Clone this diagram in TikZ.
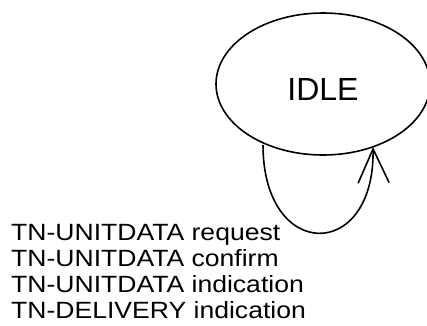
\documentclass[tikz,border=0pt]{standalone}
\usepackage{fontspec}
\setmainfont{Liberation Sans}
\usetikzlibrary{shapes.geometric,arrows.meta}
\begin{document}
\begin{tikzpicture}[x=1pt,y=-1pt,
  stateell/.style={draw, ellipse, line width=1.6pt, minimum width=214pt, minimum height=142pt, inner sep=0pt},
  statetext/.style={anchor=base, inner sep=0pt, font=\fontsize{32}{36}\selectfont},
  loopline/.style={line width=1.6pt, -{Straight Barb[length=34pt,width=31pt,line width=1.6pt]}},
  msgtext/.style={anchor=base west, inner sep=0pt, font=\fontsize{23.5}{26.3}\selectfont}]
\useasboundingbox (0,0) rectangle (427,325);
\node[stateell] (idle) at (323,84) {};
\node[statetext] (idlelabel) at (323,100) {IDLE};
\coordinate (loopstart) at (263,145);
\coordinate (loopend) at (373,147);
\draw[loopline] (loopstart) .. controls (263,262) and (375,262) .. (loopend);
\node[msgtext] (msgs) at (11,240) {\scalebox{1.13}[1]{\vtop{\baselineskip=26pt
  \hbox{TN-UNITDATA request}
  \hbox{TN-UNITDATA confirm}
  \hbox{TN-UNITDATA indication}
  \hbox{TN-DELIVERY indication}}}};
\end{tikzpicture}
\end{document}
